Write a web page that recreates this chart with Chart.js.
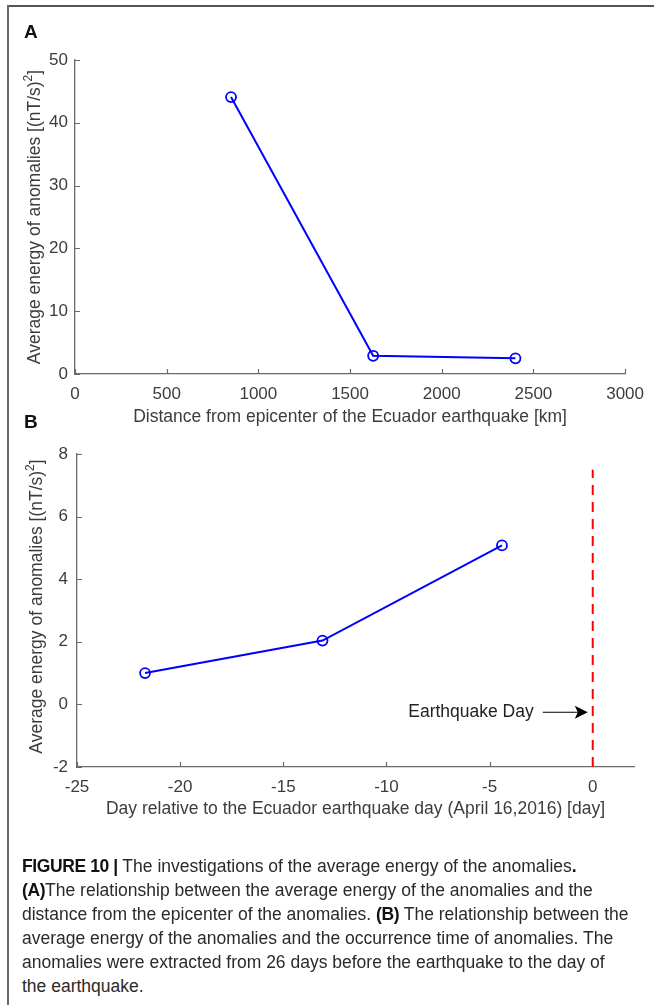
<!DOCTYPE html>
<html>
<head>
<meta charset="utf-8">
<script src="https://cdn.jsdelivr.net/npm/chart.js@4.4.1/dist/chart.umd.min.js"></script>
<style>
  html, body { margin: 0; padding: 0; background: #fff; }
  body { width: 654px; height: 1005px; position: relative; overflow: hidden;
         font-family: "Liberation Sans", Arial, Helvetica, sans-serif; }
  .frame-top { position: absolute; left: 7px; top: 5px; width: 647px; height: 2px; background: #555; }
  .frame-left { position: absolute; left: 7px; top: 5px; width: 2px; height: 1000px; background: #666; }
  canvas { position: absolute; left: 0; }
  #chartA { top: 0; }
  #chartB { top: 430px; }
  .panel { position: absolute; font-weight: bold; font-size: 19px; color: #111; line-height: 1; }
  .cap { position: absolute; left: 22px; font-size: 17.5px; line-height: 24px; color: #2a2a2a; white-space: nowrap;
         font-family: "Liberation Sans", Arial, sans-serif; }
  .cap b { color: #111; letter-spacing: -0.4px; }
</style>
</head>
<body>
<div class="frame-top"></div>
<div class="frame-left"></div>
<canvas id="chartA" width="654" height="430"></canvas>
<canvas id="chartB" width="654" height="430"></canvas>
<div class="panel" style="left:24px; top:22px;">A</div>
<div class="panel" style="left:24px; top:412px;">B</div>

<div class="cap" style="top:854px;"><b>FIGURE 10 |</b> The investigations of the average energy of the anomalies<b>.</b></div>
<div class="cap" style="top:878px;"><b>(A)</b>The relationship between the average energy of the anomalies and the</div>
<div class="cap" style="top:902px;">distance from the epicenter of the anomalies. <b>(B)</b> The relationship between the</div>
<div class="cap" style="top:926px;">average energy of the anomalies and the occurrence time of anomalies. The</div>
<div class="cap" style="top:950px;">anomalies were extracted from 26 days before the earthquake to the day of</div>
<div class="cap" style="top:974px;">the earthquake.</div>

<script>
// Panel A: average anomaly energy against distance from the epicenter
const distanceKm = [851, 1626, 2402];
const energyByDistance = [44.1, 2.9, 2.5];
const distanceTicks = [0, 500, 1000, 1500, 2000, 2500, 3000];
const energyTicksA = [0, 10, 20, 30, 40, 50];

// Panel B: average anomaly energy against day relative to the earthquake
const dayOffset = [-21.7, -13.1, -4.4];
const energyByDay = [1.0, 2.04, 5.08];
const dayTicks = [-25, -20, -15, -10, -5, 0];
const energyTicksB = [-2, 0, 2, 4, 6, 8];

// Vertical marker on the earthquake day and its label
const quakeDayX = [0, 0];
const quakeDayY = [-2, 7.5];
const quakeLabel = 'Earthquake Day';
const quakeLabelAt = { x: -2.86, y: -0.25 };
const quakeArrowFrom = -2.42;
const quakeArrowTo = -0.24;

const xTitleA = 'Distance from epicenter of the Ecuador earthquake [km]';
const xTitleB = 'Day relative to the Ecuador earthquake day (April 16,2016) [day]';
const yTitleMain = 'Average energy of anomalies [(nT/s)';
const yTitleSup = '2';
const yTitleEnd = ']';

const TEXT = '#3c3c3c';
const AXIS = '#6a6a6a';
const FONT = '"Liberation Sans", Arial, sans-serif';
const BLUE = 'rgb(0,0,255)';
const TITLE_SIZE = 17.5;
const TICK_SIZE = 17;

const toPoints = (xs, ys) => xs.map((x, i) => ({ x, y: ys[i] }));

// Inward tick marks, axis titles (with superscript) drawn on top of the chart
const decorPlugin = {
  id: 'decor',
  afterDraw(chart, args, opts) {
    const { ctx, chartArea: a, scales: { x, y } } = chart;
    ctx.save();
    ctx.strokeStyle = AXIS;
    ctx.lineWidth = 1.2;
    ctx.beginPath();
    x.ticks.forEach(t => {
      const px = Math.round(x.getPixelForValue(t.value)) + 0.5;
      ctx.moveTo(px, a.bottom);
      ctx.lineTo(px, a.bottom - 5);
    });
    y.ticks.forEach(t => {
      const py = Math.round(y.getPixelForValue(t.value)) + 0.5;
      ctx.moveTo(a.left, py);
      ctx.lineTo(a.left + 5, py);
    });
    ctx.stroke();

    // x-axis title
    ctx.fillStyle = TEXT;
    ctx.font = TITLE_SIZE + 'px ' + FONT;
    ctx.textAlign = 'center';
    ctx.textBaseline = 'middle';
    ctx.fillText(opts.xTitle, (a.left + a.right) / 2, a.bottom + opts.xTitleGap);

    // y-axis title, rotated, with raised exponent
    const main = TITLE_SIZE + 'px ' + FONT, sup = '12px ' + FONT;
    ctx.font = main;
    const w1 = ctx.measureText(yTitleMain).width;
    const w3 = ctx.measureText(yTitleEnd).width;
    ctx.font = sup;
    const w2 = ctx.measureText(yTitleSup).width;
    const total = w1 + w2 + w3;
    ctx.translate(opts.yTitleX, (a.top + a.bottom) / 2 + opts.yTitleShift);
    ctx.rotate(-Math.PI / 2);
    ctx.textAlign = 'left';
    ctx.textBaseline = 'alphabetic';
    let cx = -total / 2;
    ctx.font = main;
    ctx.fillText(yTitleMain, cx, 0);
    cx += w1;
    ctx.font = sup;
    ctx.fillText(yTitleSup, cx, -8);
    cx += w2;
    ctx.font = main;
    ctx.fillText(yTitleEnd, cx, 0);
    ctx.restore();
  }
};

// Text label with arrow pointing at the earthquake-day line
const quakeNotePlugin = {
  id: 'quakeNote',
  afterDraw(chart) {
    const { ctx, scales: { x, y } } = chart;
    const py = y.getPixelForValue(quakeLabelAt.y);
    ctx.save();
    ctx.fillStyle = '#222';
    ctx.font = TITLE_SIZE + 'px ' + FONT;
    ctx.textAlign = 'right';
    ctx.textBaseline = 'middle';
    ctx.fillText(quakeLabel, x.getPixelForValue(quakeLabelAt.x), py);

    const x0 = x.getPixelForValue(quakeArrowFrom);
    const x1 = x.getPixelForValue(quakeArrowTo);
    const headLen = 13, headHalf = 6.5, notch = 3;
    ctx.strokeStyle = '#000';
    ctx.lineWidth = 1.2;
    ctx.beginPath();
    ctx.moveTo(x0, py);
    ctx.lineTo(x1 - headLen + notch, py);
    ctx.stroke();
    ctx.fillStyle = '#000';
    ctx.beginPath();
    ctx.moveTo(x1, py);
    ctx.lineTo(x1 - headLen, py - headHalf);
    ctx.lineTo(x1 - headLen + notch, py);
    ctx.lineTo(x1 - headLen, py + headHalf);
    ctx.closePath();
    ctx.fill();
    ctx.restore();
  }
};

function axisScale(min, max, tickList, pad, extra) {
  return Object.assign({
    type: 'linear',
    min, max,
    grid: { display: false, drawTicks: false, tickLength: 0 },
    border: { display: true, color: AXIS, width: 1.3 },
    afterBuildTicks: s => { s.ticks = tickList.map(v => ({ value: v })); },
    ticks: {
      autoSkip: false, maxRotation: 0, minRotation: 0,
      color: TEXT, font: { size: TICK_SIZE, family: FONT }, padding: pad,
      callback: v => String(v)
    }
  }, extra || {});
}

const seriesStyle = {
  showLine: true,
  borderColor: BLUE,
  borderWidth: 2,
  pointRadius: 5,
  pointHoverRadius: 5,
  pointBorderWidth: 1.8,
  pointBorderColor: BLUE,
  pointBackgroundColor: 'rgba(0,0,0,0)',
  tension: 0
};

new Chart(document.getElementById('chartA'), {
  type: 'scatter',
  data: {
    datasets: [Object.assign({ data: toPoints(distanceKm, energyByDistance) }, seriesStyle)]
  },
  options: {
    responsive: false, animation: false, devicePixelRatio: 1,
    layout: { padding: { top: 60, right: 22, left: 0, bottom: 0 } },
    plugins: {
      legend: { display: false }, tooltip: { enabled: false },
      decor: { xTitle: xTitleA, xTitleGap: 43, yTitleX: 40, yTitleShift: 0 }
    },
    scales: {
      x: axisScale(0, 3000, distanceTicks, 10, { afterFit: s => { s.height = 56; } }),
      y: axisScale(0, 50, energyTicksA, 7, { afterFit: s => { s.width = 75; } })
    }
  },
  plugins: [decorPlugin]
});

new Chart(document.getElementById('chartB'), {
  type: 'scatter',
  data: {
    datasets: [
      Object.assign({ data: toPoints(dayOffset, energyByDay) }, seriesStyle),
      {
        data: toPoints(quakeDayX, quakeDayY),
        showLine: true,
        borderColor: 'rgb(255,0,0)',
        borderWidth: 2,
        borderDash: [10, 7],
        pointRadius: 0,
        pointHoverRadius: 0
      }
    ]
  },
  options: {
    responsive: false, animation: false, devicePixelRatio: 1,
    layout: { padding: { top: 24, right: 20, left: 0, bottom: 0 } },
    plugins: {
      legend: { display: false }, tooltip: { enabled: false },
      decor: { xTitle: xTitleB, xTitleGap: 42, yTitleX: 42, yTitleShift: -4 }
    },
    scales: {
      x: axisScale(-25, 2, dayTicks, 10, { afterFit: s => { s.height = 93; } }),
      y: axisScale(-2, 8, energyTicksB, 9, { afterFit: s => { s.width = 77; } })
    }
  },
  plugins: [decorPlugin, quakeNotePlugin]
});
</script>
</body>
</html>
